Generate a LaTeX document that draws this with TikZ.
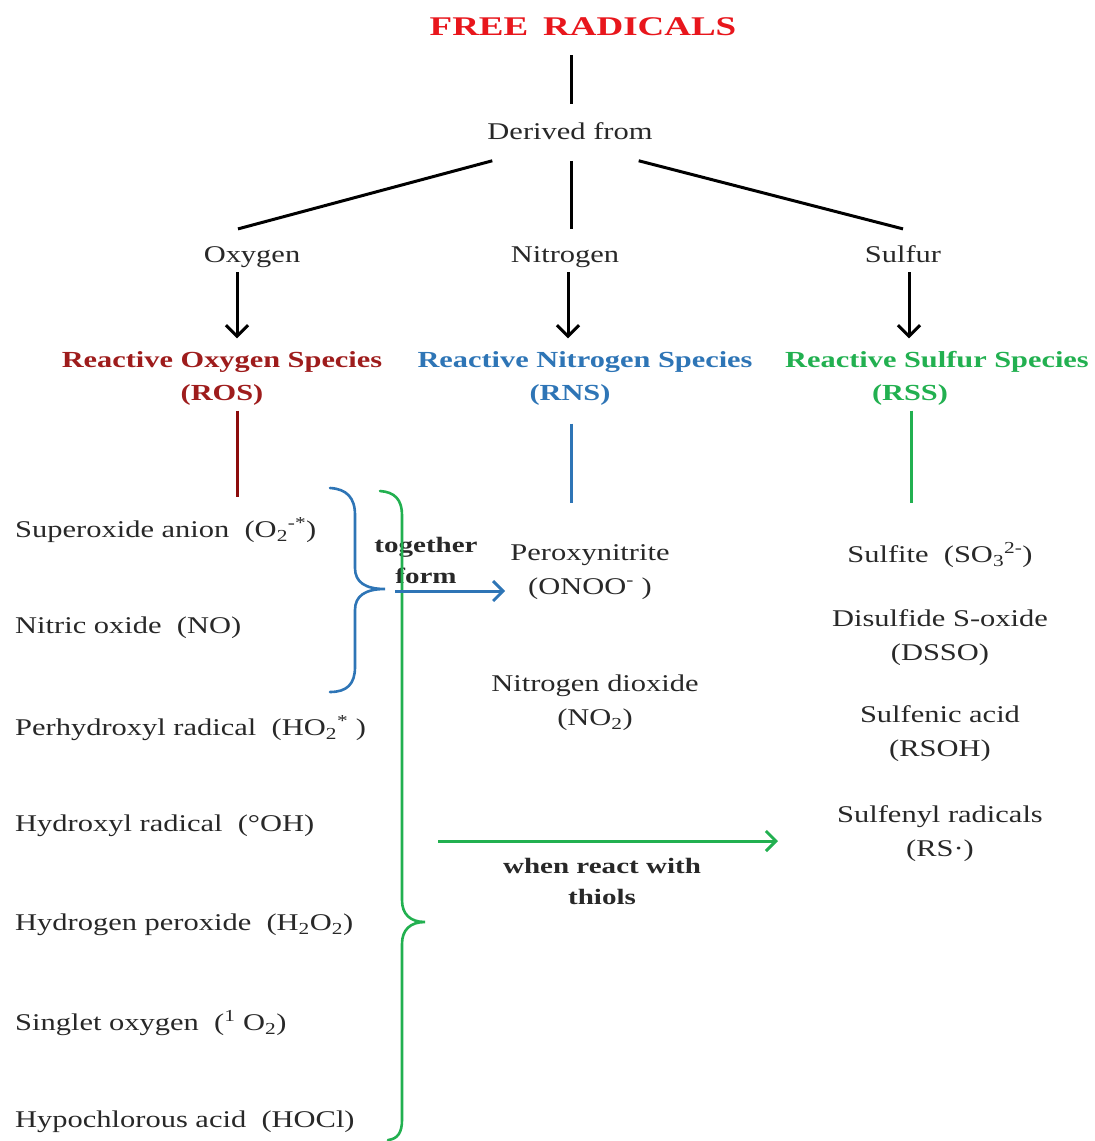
\documentclass[tikz,border=0pt]{standalone}
\usepackage{fontspec}
\setmainfont{Liberation Serif}[FakeStretch=1.27]
\newfontfamily\boldf{Liberation Serif}[FakeStretch=1.32]
\newfontfamily\titlef{Liberation Serif}[FakeStretch=1.37]
\usetikzlibrary{arrows.meta,calc}
\definecolor{titlered}{RGB}{232,22,28}
\definecolor{rosred}{RGB}{158,28,28}
\definecolor{rosline}{RGB}{140,12,12}
\definecolor{rnsblue}{RGB}{46,117,182}
\definecolor{rssgreen}{RGB}{34,176,80}
\definecolor{textgray}{RGB}{40,40,40}
\begin{document}
\begin{tikzpicture}[x=1pt,y=-1pt,
  txt/.style={inner sep=0pt, font=\fontsize{24}{34}\selectfont, align=center, text=textgray},
  itm/.style={txt, anchor=west, align=left},
  spec/.style={inner sep=0pt, font=\boldf\bfseries\fontsize{23}{33}\selectfont},
  bld/.style={inner sep=0pt, font=\boldf\bfseries\fontsize{22}{31}\selectfont, align=center, text=textgray},
  conn/.style={line width=3pt, black},
  arr/.style={conn, -{Straight Barb[length=11pt,width=22pt]}},
  colline/.style={line width=3pt},
  colarr/.style={line width=3pt, -{Straight Barb[length=10pt,width=20pt]}},
  brace/.style={line width=2.6pt, line cap=round},
]
\useasboundingbox (0,0) rectangle (1095,1141);

% top
\node[font=\titlef\bfseries\fontsize{27}{30}\selectfont, text=titlered, inner sep=0pt] (title) at (583,27) {FREE\hspace{0.55em}RADICALS};
\node[txt] (derived) at (570,131) {Derived from};
\node[txt, anchor=base] (oxygen) at (252,262) {Oxygen};
\node[txt, anchor=base] (nitrogen) at (565,262) {Nitrogen};
\node[txt, anchor=base] (sulfur) at (903,262) {Sulfur};

% species
\node[spec, text=rosred] (ros1) at (222,362) {Reactive Oxygen Species};
\node[spec, text=rosred] (ros2) at (222,395) {(ROS)};
\node[spec, text=rnsblue] (rns1) at (585,362) {Reactive Nitrogen Species};
\node[spec, text=rnsblue] (rns2) at (570,395) {(RNS)};
\node[spec, text=rssgreen] (rss1) at (937,362) {Reactive Sulfur Species};
\node[spec, text=rssgreen] (rss2) at (910,395) {(RSS)};

% left list
\node[itm] (superoxide) at (15,530) {Superoxide anion\ \ (O\textsubscript{2}\textsuperscript{-*})};
\node[itm] (nitric) at (15,628) {Nitric oxide\ \ (NO)};
\node[itm] (perhyd) at (15,728) {Perhydroxyl radical\ \ (HO\textsubscript{2}\textsuperscript{*} )};
\node[itm] (hydroxyl) at (15,826) {Hydroxyl radical\ \ (°OH)};
\node[itm] (hperox) at (15,925) {Hydrogen peroxide\ \ (H\textsubscript{2}O\textsubscript{2})};
\node[itm] (singlet) at (15,1023) {Singlet oxygen\ \ (\textsuperscript{1} O\textsubscript{2})};
\node[itm] (hocl) at (15,1122) {Hypochlorous acid\ \ (HOCl)};

% middle
\node[txt] (perox) at (590,572) {Peroxynitrite\\(ONOO\textsuperscript{-} )};
\node[txt] (no2) at (595,703) {Nitrogen dioxide\\(NO\textsubscript{2})};
\node[bld] (together) at (426,560) {together\\form};
\node[bld] (whenreact) at (602,881) {when react with\\thiols};

% right
\node[txt] (sulfite) at (940,555) {Sulfite\ \ (SO\textsubscript{3}\textsuperscript{2-})};
\node[txt] (dsso) at (940,638) {Disulfide S-oxide\\(DSSO)};
\node[txt] (rsoh) at (940,734) {Sulfenic acid\\(RSOH)};
\node[txt] (rsrad) at (940,834) {Sulfenyl radicals\\(RS·)};

% free ends
\coordinate (rosend) at (237,497);
\coordinate (rnsend) at (571,503);
\coordinate (rssend) at (911,503);
\coordinate (bstart) at (395,591);
\coordinate (gstart) at (438,841);
\coordinate (gend) at (778,841);

% black connectors
\draw[conn] ($(title.south -| derived)+(1,19)$) -- ($(derived.north)+(1,-18)$);
\draw[conn] ($(derived.south west)+(5,21)$) -- ($(oxygen.north)+(-14,-17)$);
\draw[conn] ($(derived.south)+(1,21)$) -- ($(derived.south |- nitrogen.north)+(1,-17)$);
\draw[conn] ($(derived.south east)+(-14,21)$) -- ($(sulfur.north)+(0,-16)$);
\draw[arr] ($(oxygen.south)+(-15,5)$) -- ($(ros1.north -| oxygen.south)+(-15,-13)$);
\draw[arr] ($(nitrogen.south)+(3,5)$) -- ($(rns1.north -| nitrogen.south)+(3,-13)$);
\draw[arr] ($(sulfur.south)+(6,10)$) -- ($(rss1.north -| sulfur.south)+(6,-13)$);

% coloured lines
\draw[colline, rosline] ($(ros2.south -| rosend)+(0,5)$) -- (rosend);
\draw[colline, rnsblue] ($(rns2.south -| rnsend)+(0,18)$) -- (rnsend);
\draw[colline, rssgreen] ($(rss2.south -| rssend)+(0,5)$) -- (rssend);

% braces
\draw[brace, rnsblue] (330,488) .. controls (347,489) and (355,498) .. (355,515) -- (355,568)
  .. controls (355,582) and (365,589) .. (385,589)
  .. controls (365,589) and (355,596) .. (355,610) -- (355,667)
  .. controls (355,684) and (347,692) .. (330,692);
\draw[brace, rssgreen] (380,491) .. controls (395,492) and (402,500) .. (402,515) -- (402,900)
  .. controls (402,914) and (410,922) .. (425,922)
  .. controls (410,922) and (402,930) .. (402,944) -- (402,1120)
  .. controls (402,1132) and (398,1139) .. (388,1140);

% coloured arrows
\draw[colarr, rnsblue, shorten >=5pt] (bstart) -- (bstart -| perox.west);
\draw[colarr, rssgreen] (gstart) -- (gend);
\end{tikzpicture}
\end{document}
